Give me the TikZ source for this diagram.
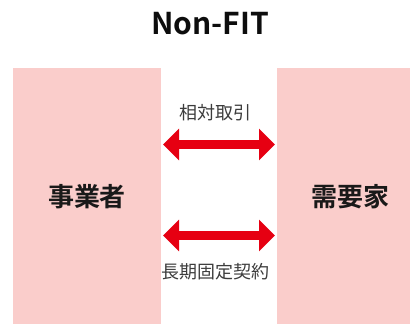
\documentclass[tikz,border=0pt]{standalone}
\usepackage{fontspec}
\setmainfont{Noto Sans CJK JP}
\newfontfamily\jpb{Noto Sans CJK JP Bold}
\usetikzlibrary{arrows.meta}
\definecolor{boxpink}{HTML}{FACDCB}
\definecolor{arrred}{HTML}{E60012}
\definecolor{txtgray}{HTML}{3C3C3C}
\tikzset{
  partybox/.style={fill=boxpink, draw=none, inner sep=0pt},
  bigtxt/.style={font=\jpb\fontsize{26}{30}\selectfont, text=black!90, inner sep=0pt},
  smalltxt/.style={font=\fontsize{18}{21}\selectfont, text=txtgray, inner sep=0pt},
  redarrow/.style={draw=arrred, line width=9pt, {Triangle[length=16pt,width=31pt]}-{Triangle[length=16pt,width=31pt]}}
}
\begin{document}
\begin{tikzpicture}[x=1pt,y=-1pt]
\useasboundingbox (0,0) rectangle (410,324);
\node[font=\jpb\fontsize{30}{34}\selectfont, text=black!95, inner sep=0pt] (title) at (210,24) {Non-FIT};
\node[partybox, minimum width=148pt, minimum height=256pt] (L) at (87,196) {};
\node[partybox, minimum width=133pt, minimum height=256pt] (R) at (343.5,196) {};
\node[bigtxt] (Ltxt) at (87,197) {事業者};
\node[bigtxt] (Rtxt) at (350,197) {需要家};
\coordinate (a1l) at (163,144.5);
\coordinate (a1r) at (275,144.5);
\coordinate (a2l) at (163,235.5);
\coordinate (a2r) at (275,235.5);
\draw[redarrow] (a1l) -- (a1r);
\draw[redarrow] (a2l) -- (a2r);
\node[smalltxt] (t1) at (215,113) {相対取引};
\node[smalltxt] (t2) at (215,272) {長期固定契約};
\end{tikzpicture}
\end{document}
